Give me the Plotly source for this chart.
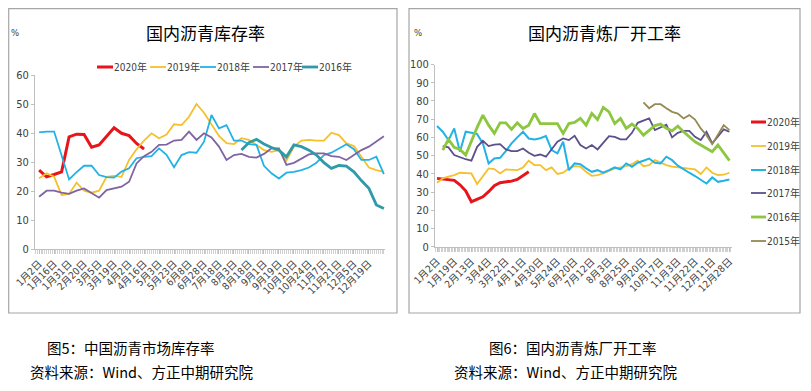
import plotly.graph_objects as go

# The page places the figure 8px from the window's top-left corner (default body margin),
# so the figure is sized to fill the 811x391 window exactly and all layout positions
# below are given in window pixels and converted with that offset.
WIN_W, WIN_H, OFF = 811, 391, 8
W, H = WIN_W - OFF, WIN_H - OFF

# ---------------- Left chart: 国内沥青库存率 (weekly, %) ----------------
inv_ticks = ["1月2日", "1月16日", "1月31日", "2月20日", "3月5日", "3月19日", "4月2日",
             "4月16日", "5月3日", "5月23日", "6月8日", "6月28日", "7月18日", "8月3日",
             "8月18日", "9月1日", "9月19日", "10月10日", "10月24日", "11月7日",
             "11月21日", "12月5日", "12月19日"]
inv_weeks = 47
inv_2020 = [27.2, 24.9, 25.7, 26.6, 38.7, 39.6, 39.5, 35.1, 35.9, 38.7, 41.8, 39.9, 39.1, 36.4, 34.5]
inv_2019 = [24.4, 26.1, 24.9, 18.6, 19.0, 22.9, 20.1, 19.4, 20.1, 24.9, 25.2, 24.9, 30.7, 34.4,
            37.4, 39.9, 38.2, 39.5, 43.0, 42.7, 45.6, 50.0, 47.0, 43.0, 39.0, 36.5, 36.2, 38.2,
            37.6, 35.9, 34.1, 33.5, 34.1, 30.5, 35.3, 37.4, 37.6, 37.4, 37.4, 40.1, 39.3, 36.4,
            35.5, 31.8, 28.1, 27.2, 26.6]
inv_2018 = [40.2, 40.5, 40.5, 32.0, 24.0, 26.5, 28.7, 28.7, 25.5, 24.8, 24.6, 26.7, 27.8, 31.3,
            31.8, 32.0, 34.7, 32.5, 28.2, 32.4, 33.4, 33.2, 37.0, 46.2, 41.6, 42.7, 37.4, 37.4,
            36.2, 35.9, 28.7, 26.1, 24.3, 26.3, 26.6, 27.2, 28.1, 29.7, 32.4, 33.2, 34.7, 36.1,
            34.4, 30.7, 30.7, 31.8, 25.8]
inv_2017 = [18.0, 20.1, 20.1, 19.4, 19.0, 20.1, 20.9, 19.4, 17.7, 20.3, 20.9, 21.5, 23.2, 29.5,
            32.0, 33.5, 35.9, 36.0, 37.4, 37.6, 40.5, 37.6, 39.9, 38.5, 35.3, 30.7, 32.4, 32.8,
            31.8, 31.5, 32.8, 34.7, 34.7, 29.0, 29.7, 31.2, 32.6, 33.0, 33.0, 32.0, 31.8, 30.7,
            32.4, 34.1, 35.3, 37.0, 38.9]
inv_2016 = [None] * 27 + [34.1, 36.7, 37.8, 36.2, 35.0, 34.1, 31.8, 35.9, 35.3, 34.1, 32.4, 29.8,
                          27.8, 28.8, 28.6, 26.6, 23.6, 20.9, 15.2, 14.0]

# ---------------- Right chart: 国内沥青炼厂开工率 (weekly, %) ----------------
rate_ticks = ["1月2日", "1月19日", "2月13日", "3月4日", "3月22日", "4月11日", "4月30日",
              "5月24日", "6月20日", "7月12日", "8月3日", "8月25日", "9月20日", "10月17日",
              "11月3日", "11月22日", "12月11日", "12月28日"]
rate_weeks = 52
rate_2020 = [37.5, 37.2, 36.9, 36.4, 34.0, 30.7, 24.7, 26.0, 27.4, 30.2, 33.5, 35.1, 35.5, 36.0,
             36.9, 38.8, 41.1]
rate_2019 = [35.1, 37.5, 38.5, 39.3, 40.6, 40.4, 40.2, 34.4, 38.7, 43.0, 42.6, 40.2, 42.4, 42.2,
             42.0, 43.5, 47.2, 44.8, 44.8, 42.0, 43.5, 39.9, 40.6, 43.0, 44.2, 43.9, 41.1, 38.9,
             39.3, 40.2, 41.5, 43.0, 43.6, 44.2, 45.3, 47.2, 44.2, 44.8, 47.5, 46.1, 44.8, 44.0,
             43.5, 43.0, 42.6, 42.4, 39.9, 43.5, 40.6, 39.3, 39.5, 40.6]
rate_2018 = [66.2, 63.1, 58.5, 64.9, 52.1, 63.1, 62.5, 61.8, 56.7, 45.7, 48.4, 48.8, 52.5, 56.7,
             60.0, 63.1, 59.4, 58.9, 59.5, 60.7, 53.0, 51.2, 57.6, 42.0, 45.7, 45.3, 43.0, 41.1,
             42.0, 40.6, 42.0, 43.5, 42.4, 45.7, 43.9, 46.1, 47.2, 48.4, 46.1, 45.7, 49.4, 47.5,
             44.5, 42.4, 40.6, 38.8, 36.9, 34.7, 38.0, 35.6, 36.2, 36.9]
rate_2017 = [None, 55.2, 54.5, 50.3, 49.0, 48.0, 47.2, 54.8, 58.1, 55.2, 56.0, 56.3, 53.4, 52.5,
             52.5, 53.9, 51.6, 49.9, 50.6, 49.4, 53.5, 57.6, 59.4, 58.5, 60.9, 55.8, 53.9, 55.8,
             53.4, 57.0, 60.7, 60.3, 58.9, 58.9, 62.5, 68.0, 69.1, 70.4, 64.0, 65.4, 67.0, 60.0,
             62.5, 63.6, 63.6, 60.3, 58.5, 63.1, 56.7, 60.5, 64.4, 63.1]
rate_2016 = [None, 53.0, 58.9, 54.5, 53.4, 50.3, 58.0, 65.5, 72.2, 66.7, 62.2, 68.0, 68.0, 64.4,
             68.0, 64.9, 66.7, 73.1, 67.6, 67.6, 67.6, 67.6, 62.2, 67.6, 68.2, 70.4, 66.7, 73.1,
             69.8, 76.4, 74.0, 67.6, 70.4, 64.9, 67.3, 64.9, 61.2, 64.0, 66.5, 67.3, 65.0, 63.6,
             66.2, 63.1, 60.3, 57.6, 55.8, 54.0, 52.1, 55.8, 51.2, 47.2]
rate_2015 = [None] * 36 + [79.2, 76.0, 78.2, 78.2, 76.0, 74.0, 73.1, 70.4, 72.2, 69.8, 64.9, 61.2,
                           56.3, 61.5, 66.7, 64.0]

left_series = [("2020年", inv_2020, "#e8141b", 3.0),
               ("2019年", inv_2019, "#f5c02c", 1.8),
               ("2018年", inv_2018, "#22b2e6", 1.8),
               ("2017年", inv_2017, "#8064a2", 1.8),
               ("2016年", inv_2016, "#2f9aa8", 2.8)]
right_series = [("2020年", rate_2020, "#e8141b", 3.0),
                ("2019年", rate_2019, "#f5c02c", 1.8),
                ("2018年", rate_2018, "#22b2e6", 2.0),
                ("2017年", rate_2017, "#5b4f8c", 1.8),
                ("2016年", rate_2016, "#8dc63f", 2.8),
                ("2015年", rate_2015, "#948a54", 1.8)]


def px(x):
    return (x - OFF) / W


def py(y):
    return 1 - (y - OFF) / H


fig = go.Figure()
for name, vals, color, lw in left_series:
    fig.add_trace(go.Scatter(x=list(range(len(vals))), y=vals, mode="lines", name=name,
                             line=dict(color=color, width=lw), xaxis="x", yaxis="y",
                             showlegend=False, connectgaps=False))
for name, vals, color, lw in right_series:
    fig.add_trace(go.Scatter(x=list(range(len(vals))), y=vals, mode="lines", name=name,
                             line=dict(color=color, width=lw), xaxis="x2", yaxis="y2",
                             showlegend=False, connectgaps=False))

NARROW = "DejaVu Sans Condensed, Noto Sans CJK SC, sans-serif"
TICKFONT = dict(family=NARROW, size=10, color="#404040")
AXCOL = "#bfbfbf"

common_x = dict(showline=True, linecolor=AXCOL, linewidth=1, showgrid=False, zeroline=False,
                ticks="outside", ticklen=4, tickcolor=AXCOL, tickangle=-45, tickfont=TICKFONT,
                fixedrange=True, automargin=False)
common_y = dict(showline=True, linecolor=AXCOL, linewidth=1, showgrid=False, zeroline=False,
                ticks="outside", ticklen=3, tickcolor=AXCOL, tickfont=dict(TICKFONT, size=11),
                dtick=10, fixedrange=True, automargin=False)

fig.update_layout(
    width=W, height=H, margin=dict(l=0, r=0, t=0, b=0, autoexpand=False),
    paper_bgcolor="white", plot_bgcolor="white", showlegend=False,
    xaxis=dict(common_x, domain=[px(35), px(385)], range=[-0.55, inv_weeks - 1 + 0.15],
               tickmode="array", tickvals=[2 * i for i in range(len(inv_ticks))],
               ticktext=inv_ticks,
               minor=dict(tickmode="linear", tick0=0, dtick=0.25, ticks="outside", ticklen=4,
                          tickcolor="#d0d0d0")),
    yaxis=dict(common_y, domain=[py(249), py(75)], range=[0, 60], anchor="x"),
    xaxis2=dict(common_x, domain=[px(435), px(732)], range=[-0.35, rate_weeks - 1 + 0.45],
                tickmode="array", tickvals=[3 * i for i in range(len(rate_ticks))],
                ticktext=rate_ticks, anchor="y2",
                minor=dict(tickmode="linear", tick0=0, dtick=0.25, ticks="outside", ticklen=4,
                           tickcolor="#d0d0d0")),
    yaxis2=dict(common_y, domain=[py(246.7), py(64.5)], range=[0, 100], anchor="x2"),
)

shapes = []
annotations = []
# panel borders
for x0, x1 in [(8.7, 397), (409, 800)]:
    shapes.append(dict(type="rect", xref="paper", yref="paper", x0=px(x0), x1=px(x1),
                       y0=py(313), y1=py(8.7), line=dict(color="#a6a6a6", width=1.2),
                       fillcolor="rgba(0,0,0,0)", layer="below"))

TITLEFONT = dict(family="Noto Sans CJK SC, sans-serif", size=17, color="#000000")
annotations.append(dict(text="国内沥青库存率", x=px(205), y=py(33), xref="paper", yref="paper",
                        showarrow=False, font=TITLEFONT, xanchor="center", yanchor="middle"))
annotations.append(dict(text="国内沥青炼厂开工率", x=px(604), y=py(33), xref="paper", yref="paper",
                        showarrow=False, font=TITLEFONT, xanchor="center", yanchor="middle"))
for xp in (15, 418):
    annotations.append(dict(text="%", x=px(xp), y=py(33), xref="paper", yref="paper",
                            showarrow=False, font=dict(TICKFONT, size=9.5), xanchor="center",
                            yanchor="middle"))

LEGFONT = dict(family=NARROW, size=10, color="#404040")
# left legend (horizontal row)
left_leg_x = [97, 150, 200, 253, 302]
for (name, vals, color, lw), lx in zip(left_series, left_leg_x):
    shapes.append(dict(type="line", xref="paper", yref="paper", x0=px(lx), x1=px(lx + 16),
                       y0=py(67), y1=py(67), line=dict(color=color, width=lw)))
    annotations.append(dict(text=name, x=px(lx + 16), y=py(67), xref="paper", yref="paper",
                            showarrow=False, font=LEGFONT, xanchor="left", yanchor="middle",
                            xshift=-1))
# right legend (vertical column)
right_leg_y = [122, 146, 170, 193, 217, 241]
for (name, vals, color, lw), ly in zip(right_series, right_leg_y):
    shapes.append(dict(type="line", xref="paper", yref="paper", x0=px(751), x1=px(766),
                       y0=py(ly), y1=py(ly), line=dict(color=color, width=lw)))
    annotations.append(dict(text=name, x=px(766), y=py(ly), xref="paper", yref="paper",
                            showarrow=False, font=LEGFONT, xanchor="left", yanchor="middle",
                            xshift=-1))

CAPFONT = dict(family="Noto Sans CJK SC, sans-serif", size=14.5, color="#000000")
captions = [("图5：中国沥青市场库存率", 45, 347),
            ("资料来源：Wind、方正中期研究院", 28, 371),
            ("图6：国内沥青炼厂开工率", 487, 347),
            ("资料来源：Wind、方正中期研究院", 452, 371)]
for text, cx, cy in captions:
    annotations.append(dict(text=text, x=px(cx), y=py(cy), xref="paper", yref="paper",
                            showarrow=False, font=CAPFONT, xanchor="left", yanchor="middle"))

fig.update_layout(shapes=shapes, annotations=annotations)
fig.write_html("out.html")
